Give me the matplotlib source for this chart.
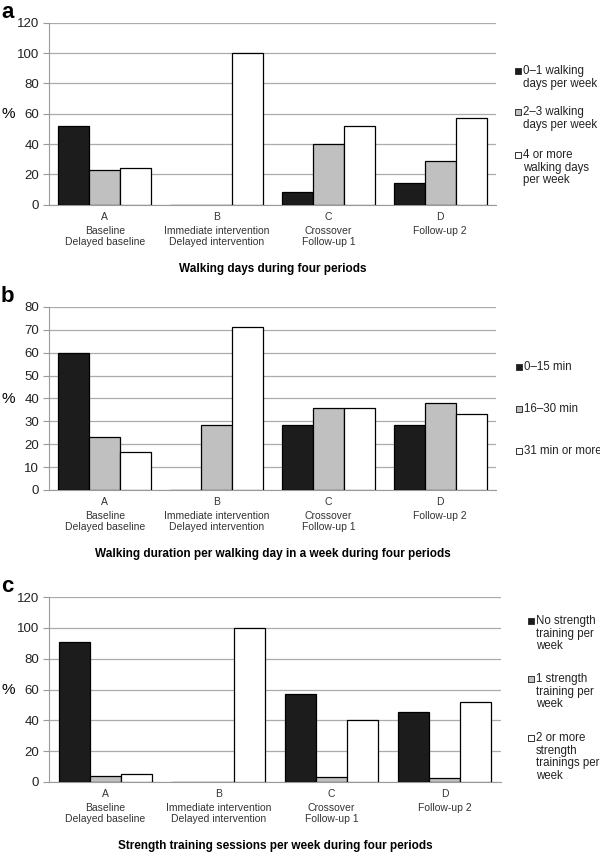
import numpy as np
import matplotlib
matplotlib.use("Agg")
from matplotlib import pyplot as plt
from matplotlib.patches import Rectangle

plt.rcParams['font.family'] = ['Liberation Sans', 'DejaVu Sans']

letters = ["A", "B", "C", "D"]
periods = ["Baseline\nDelayed baseline", "Immediate intervention\nDelayed intervention",
           "Crossover\nFollow-up 1", "Follow-up 2"]

# panel a
days_labels = ["0\u20131 walking\ndays per week", "2\u20133 walking\ndays per week",
               "4 or more\nwalking days\nper week"]
days_low = [52, 0, 8.6, 14.3]
days_mid = [23.2, 0, 40, 28.6]
days_high = [24.3, 100, 52, 57.1]

# panel b
dur_labels = ["0\u201315 min", "16\u201330 min", "31 min or more"]
dur_low = [60, 0, 28.6, 28.6]
dur_mid = [23.3, 28.6, 35.7, 38.1]
dur_high = [16.7, 71.4, 35.7, 33.3]

# panel c
str_labels = ["No strength\ntraining per\nweek", "1 strength\ntraining per\nweek",
              "2 or more\nstrength\ntrainings per\nweek"]
str_none = [91, 0, 56.8, 45.3]
str_one = [4.2, 0, 3.2, 2.4]
str_two = [5, 100, 40.1, 52.2]

colors = ["#1c1c1c", "#c0c0c0", "#ffffff"]

W, H = 600, 852
fig = plt.figure(figsize=(6, 8.52), dpi=100)


def panel(top, bottom, right, series, labels, ymax, ystep, title, letter, leg_x, leg_ys):
    ax = fig.add_axes([49 / W, (H - bottom) / H, (right - 49) / W, (bottom - top) / H])
    x = np.arange(4)
    bw = 0.277
    for k, vals in enumerate(series):
        ax.bar(x + (k - 1) * bw, vals, bw, color=colors[k], edgecolor="black",
               linewidth=0.9, zorder=3)
    ax.set_xlim(-0.5, 3.5)
    ax.set_ylim(0, ymax)
    ax.set_yticks(np.arange(0, ymax + 1, ystep))
    ax.yaxis.grid(True, color="#ababab", linewidth=0.9, zorder=0)
    ax.set_axisbelow(True)
    for s in ["top", "right"]:
        ax.spines[s].set_visible(False)
    ax.spines["left"].set_color("#9a9a9a")
    ax.spines["bottom"].set_color("#9a9a9a")
    ax.tick_params(axis="y", length=4, color="#9a9a9a", labelsize=9.5, pad=3,
                   labelcolor="#222222")
    ax.set_xticks([])
    for i in range(4):
        ax.annotate(letters[i], (i, 0), xycoords=("data", "axes fraction"),
                    xytext=(0, -12 * 0.72), textcoords="offset points",
                    ha="center", va="center", fontsize=7.5, color="#333333")
        ax.annotate(periods[i], (i, 0), xycoords=("data", "axes fraction"),
                    xytext=(0, -21 * 0.72), textcoords="offset points",
                    ha="center", va="top", fontsize=7.5, linespacing=1.15, color="#333333")
    fig.text((49 + right) / 2 / W, 1 - (bottom + 64) / H, title, ha="center", va="center",
             fontsize=8.5, fontweight="bold")
    fig.text(1 / W, 1 - (top - 10) / H, letter, ha="left", va="center",
             fontsize=16, fontweight="bold")
    fig.text(1 / W, 1 - ((top + bottom) / 2) / H, "%", ha="left", va="center", fontsize=11)
    for k, (lab, ly) in enumerate(zip(labels, leg_ys)):
        fig.patches.append(Rectangle(((leg_x) / W, 1 - (ly + 3) / H), 6 / W, 6 / H,
                                     transform=fig.transFigure, facecolor=colors[k],
                                     edgecolor="#333333", linewidth=0.7))
        fig.text((leg_x + 8) / W, 1 - (ly - 6) / H, lab, ha="left", va="top",
                 fontsize=8.3, linespacing=1.07, color="#222222")
    return ax


panel(22.7, 204.7, 496, [days_low, days_mid, days_high], days_labels, 120, 20,
      "Walking days during four periods", "a", 515, [71, 112, 155])
panel(307, 490, 496, [dur_low, dur_mid, dur_high], dur_labels, 80, 10,
      "Walking duration per walking day in a week during four periods", "b", 516, [367, 409, 451])
panel(597, 782, 501, [str_none, str_one, str_two], str_labels, 120, 20,
      "Strength training sessions per week during four periods", "c", 528, [621, 679, 738])

fig.savefig("out.png", dpi=100)
